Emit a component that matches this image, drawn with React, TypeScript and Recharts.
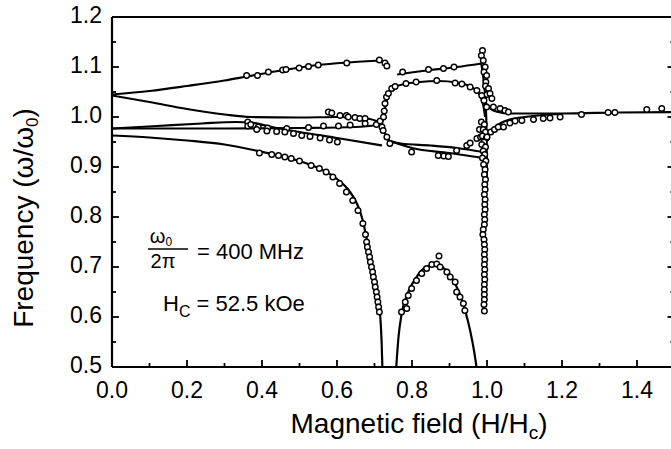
import React from "react";
import { ComposedChart, Line, Scatter, XAxis, YAxis } from "recharts";

const FONT = "'Liberation Sans', Arial, Helvetica, sans-serif";

// axis ticks (major every 0.2 / 0.1, minor in between)
const xTicks = [0, 0.1, 0.2, 0.3, 0.4, 0.5, 0.6, 0.7, 0.8, 0.9, 1.0, 1.1, 1.2, 1.3, 1.4, 1.5];
const yTicks = [0.5, 0.55, 0.6, 0.65, 0.7, 0.75, 0.8, 0.85, 0.9, 0.95, 1.0, 1.05, 1.1, 1.15, 1.2];

// theory curves, [H/Hc, w/w0]
const upperLeftCurve = [[0, 1.045], [0.1, 1.052], [0.2, 1.062], [0.3, 1.073], [0.36, 1.081], [0.45, 1.093], [0.55, 1.104], [0.63, 1.109], [0.72, 1.113]];
const upperRightCurve = [[0.76, 1.085], [0.85, 1.094], [0.92, 1.1], [0.985, 1.107]];
const spikeCurve = [[0.985, 1.107], [0.99, 1.08], [0.995, 1.045], [0.998, 1.0], [0.999, 0.95], [1.0, 0.87]];
const curveA = [[0, 1.043], [0.1, 1.03], [0.2, 1.016], [0.3, 1.005], [0.37, 1.0], [0.5, 0.999], [0.6, 1.0], [0.68, 0.997], [0.72, 0.988]];
const curveB = [[0, 0.977], [0.3, 0.977], [0.5, 0.978], [0.65, 0.98], [0.72, 0.985]];
const curveC = [[0, 0.977], [0.12, 0.982], [0.24, 0.987], [0.33, 0.99], [0.37, 0.989], [0.42, 0.981], [0.5, 0.97], [0.6, 0.958], [0.72, 0.943]];
const curveD = [[0, 0.963], [0.1, 0.959], [0.2, 0.953], [0.3, 0.945], [0.39, 0.932], [0.45, 0.922], [0.5, 0.912], [0.55, 0.898], [0.6, 0.876], [0.63, 0.855], [0.656, 0.822], [0.668, 0.795], [0.679, 0.757], [0.69, 0.712], [0.7, 0.672], [0.708, 0.64], [0.715, 0.605], [0.719, 0.55], [0.721, 0.5]];
const loopTop = [[0.72, 0.988], [0.726, 1.01], [0.732, 1.032], [0.74, 1.048], [0.755, 1.06], [0.78, 1.066], [0.82, 1.07], [0.87, 1.072], [0.92, 1.069], [0.95, 1.063], [0.97, 1.054], [0.982, 1.042], [0.99, 1.024], [0.995, 1.0]];
const loopBottomA = [[0.72, 0.988], [0.727, 0.97], [0.738, 0.953], [0.77, 0.947], [0.85, 0.943], [0.92, 0.938], [0.99, 0.93]];
const loopBottomB = [[0.738, 0.953], [0.8, 0.938], [0.9, 0.928], [0.99, 0.918]];
const rightUpper = [[0.995, 1.03], [1.01, 1.016], [1.03, 1.01], [1.06, 1.007], [1.2, 1.007], [1.35, 1.009], [1.5, 1.01]];
const rightLower = [[0.99, 0.948], [1.0, 0.962], [1.015, 0.976], [1.035, 0.987], [1.06, 0.995], [1.1, 1.0], [1.15, 1.004], [1.2, 1.006]];
const dome = [[0.758, 0.5], [0.764, 0.56], [0.772, 0.605], [0.79, 0.65], [0.812, 0.68], [0.835, 0.699], [0.86, 0.705], [0.88, 0.7], [0.9, 0.686], [0.915, 0.666], [0.93, 0.642], [0.941, 0.615], [0.955, 0.573], [0.966, 0.53], [0.972, 0.5]];

// measured points
const pointsTop = [[0.359, 1.083], [0.388, 1.083], [0.417, 1.09], [0.455, 1.094], [0.464, 1.095], [0.499, 1.098], [0.524, 1.101], [0.55, 1.104], [0.626, 1.108], [0.713, 1.114], [0.728, 1.108], [0.733, 1.102], [0.775, 1.09], [0.844, 1.095], [0.884, 1.097], [0.912, 1.1]];
const pointsSpike = [[0.988, 1.133], [0.985, 1.123], [0.99, 1.113], [0.995, 1.1], [0.992, 1.09], [0.999, 1.083], [0.997, 1.07], [0.996, 1.062], [1.004, 1.057], [1.0, 1.045], [1.008, 1.047], [1.013, 1.037], [0.999, 1.02], [1.017, 1.02], [1.035, 1.017], [1.048, 1.013], [1.057, 1.01]];
const pointsLoop = [[0.728, 1.027], [0.732, 1.04], [0.737, 1.047], [0.746, 1.057], [0.755, 1.061], [0.784, 1.067], [0.811, 1.07], [0.866, 1.073], [0.915, 1.068], [0.933, 1.066], [0.955, 1.06], [0.973, 1.053], [0.986, 1.043], [0.992, 1.033], [0.705, 0.985], [0.715, 0.992], [0.72, 0.98], [0.724, 1.0], [0.726, 1.012], [0.723, 0.973], [0.733, 0.96], [0.741, 0.947], [0.799, 0.93], [0.87, 0.923], [0.885, 0.922], [0.897, 0.921], [0.919, 0.933], [0.946, 0.943], [0.955, 0.948], [0.973, 0.957], [0.985, 0.99], [0.98, 0.975], [0.983, 0.96]];
const pointsLevel = [[0.577, 1.01], [0.586, 1.008], [0.608, 1.003], [0.625, 1.003], [0.63, 1.0], [0.648, 0.999], [0.661, 0.997], [0.675, 0.997], [0.362, 0.99], [0.362, 0.982], [0.37, 0.985], [0.39, 0.98], [0.415, 0.978], [0.466, 0.977], [0.524, 0.979], [0.564, 0.982], [0.604, 0.982], [0.635, 0.984], [0.675, 0.987], [0.386, 0.975], [0.413, 0.972], [0.439, 0.971], [0.461, 0.97], [0.484, 0.967], [0.506, 0.963], [0.528, 0.961], [0.555, 0.958], [0.58, 0.954], [0.601, 0.95]];
const pointsD = [[0.393, 0.928], [0.426, 0.925], [0.444, 0.923], [0.461, 0.92], [0.478, 0.917], [0.5, 0.912], [0.531, 0.903], [0.553, 0.897], [0.571, 0.89], [0.589, 0.88], [0.607, 0.867], [0.625, 0.85], [0.642, 0.833], [0.656, 0.813], [0.669, 0.787], [0.676, 0.765], [0.679, 0.75], [0.681, 0.74], [0.684, 0.73], [0.687, 0.72], [0.689, 0.71], [0.692, 0.7], [0.695, 0.69], [0.697, 0.68], [0.7, 0.67], [0.702, 0.66], [0.705, 0.65], [0.707, 0.64], [0.709, 0.63], [0.711, 0.62], [0.713, 0.61]];
const pointsDome = [[0.772, 0.61], [0.786, 0.617], [0.782, 0.63], [0.79, 0.643], [0.799, 0.657], [0.812, 0.673], [0.826, 0.687], [0.839, 0.697], [0.853, 0.705], [0.866, 0.706], [0.872, 0.722], [0.875, 0.7], [0.893, 0.69], [0.902, 0.68], [0.915, 0.67], [0.919, 0.65], [0.928, 0.64], [0.937, 0.627], [0.941, 0.613]];
const pointsColumn = [[0.993, 0.985], [0.99, 0.975], [0.996, 0.97], [0.988, 0.962], [0.998, 0.958], [0.992, 0.95], [0.986, 0.945], [0.996, 0.94], [0.99, 0.932], [0.994, 0.925], [0.988, 0.918], [0.997, 0.912], [0.991, 0.905], [0.995, 0.895], [0.993, 0.885], [0.996, 0.875], [0.994, 0.865], [0.995, 0.855], [0.993, 0.845], [0.995, 0.835], [0.994, 0.825], [0.995, 0.815], [0.993, 0.805], [0.994, 0.795], [0.993, 0.785], [0.99, 0.775], [0.989, 0.765], [0.992, 0.755], [0.993, 0.745], [0.994, 0.735], [0.993, 0.725], [0.994, 0.715], [0.993, 0.705], [0.994, 0.695], [0.993, 0.685], [0.994, 0.675], [0.993, 0.665], [0.993, 0.655], [0.993, 0.645], [0.993, 0.635], [0.992, 0.625], [0.993, 0.612]];
const pointsRight = [[1.0, 0.96], [1.01, 0.97], [1.02, 0.975], [1.03, 0.98], [1.044, 0.98], [1.061, 0.988], [1.075, 0.992], [1.093, 0.993], [1.124, 0.995], [1.15, 0.997], [1.168, 0.998], [1.195, 1.0], [1.252, 1.005], [1.323, 1.009], [1.341, 1.009], [1.426, 1.015], [1.466, 1.017]];

const curves = [upperLeftCurve, upperRightCurve, curveA, curveB, curveC, curveD, loopTop, loopBottomA, loopBottomB, rightUpper, rightLower, dome];
const pointSets = [pointsTop, pointsSpike, pointsLoop, pointsLevel, pointsD, pointsDome, pointsColumn, pointsRight];

const toPts = (arr: number[][]) => arr.map(([x, y]) => ({ x, y }));

const isMajorX = (v: number) => Math.round(v * 10) % 2 === 0;
const isMajorY = (v: number) => Math.round(v * 100) % 10 === 0;

const BottomTick = (props: any) => {
  const { x, y, payload } = props;
  const v = payload.value;
  const major = isMajorX(v);
  return (
    <g>
      <line x1={x} x2={x} y1={y} y2={y - (major ? 7 : 4)} stroke="#000" strokeWidth={1.8} />
      {major && (
        <text x={x} y={y + 31} textAnchor="middle" fontSize={23} fill="#000" fontFamily={FONT}>
          {v.toFixed(1)}
        </text>
      )}
    </g>
  );
};

const TopTick = (props: any) => {
  const { x, y, payload } = props;
  const major = isMajorX(payload.value);
  return <line x1={x} x2={x} y1={y} y2={y + (major ? 7 : 4)} stroke="#000" strokeWidth={1.8} />;
};

const LeftTick = (props: any) => {
  const { x, y, payload } = props;
  const v = payload.value;
  const major = isMajorY(v);
  return (
    <g>
      <line x1={x} x2={x + (major ? 7 : 4)} y1={y} y2={y} stroke="#000" strokeWidth={1.8} />
      {major && (
        <text x={x - 10} y={y + 6} textAnchor="end" fontSize={23} fill="#000" fontFamily={FONT}>
          {v.toFixed(1)}
        </text>
      )}
    </g>
  );
};

const RightTick = (props: any) => {
  const { x, y, payload } = props;
  const major = isMajorY(payload.value);
  return <line x1={x} x2={x - (major ? 7 : 4)} y1={y} y2={y} stroke="#000" strokeWidth={1.8} />;
};

const OpenCircle = (props: any) => {
  const { cx, cy } = props;
  if (cx == null || cy == null) return <g />;
  return <circle cx={cx} cy={cy} r={2.8} fill="#fff" stroke="#000" strokeWidth={1.4} />;
};

export default function App() {
  return (
    <div style={{ position: "absolute", left: 0, top: 0, width: 671, height: 449, overflow: "hidden", background: "#fff" }}>
      <ComposedChart width={690} height={449} margin={{ top: 0, right: 0, bottom: 0, left: 0 }}>
        <XAxis
          dataKey="x"
          type="number"
          domain={[0, 1.5]}
          allowDataOverflow
          ticks={xTicks}
          interval={0}
          tickSize={0}
          tickMargin={0}
          tickLine={false}
          tick={<BottomTick />}
          axisLine={{ stroke: "#000", strokeWidth: 2.2 }}
          height={82}
        />
        <XAxis
          xAxisId="top"
          orientation="top"
          type="number"
          domain={[0, 1.5]}
          allowDataOverflow
          ticks={xTicks}
          interval={0}
          tickSize={0}
          tickMargin={0}
          tickLine={false}
          tick={<TopTick />}
          axisLine={{ stroke: "#000", strokeWidth: 2.2 }}
          height={17}
        />
        <YAxis
          dataKey="y"
          type="number"
          domain={[0.5, 1.2]}
          allowDataOverflow
          ticks={yTicks}
          interval={0}
          tickSize={0}
          tickMargin={0}
          tickLine={false}
          tick={<LeftTick />}
          axisLine={{ stroke: "#000", strokeWidth: 2.2 }}
          width={112}
        />
        <YAxis
          yAxisId="right"
          orientation="right"
          type="number"
          domain={[0.5, 1.2]}
          allowDataOverflow
          ticks={yTicks}
          interval={0}
          tickSize={0}
          tickMargin={0}
          tickLine={false}
          tick={<RightTick />}
          axisLine={{ stroke: "#000", strokeWidth: 2.2 }}
          width={15.5}
        />
        {curves.map((c, i) => (
          <Line
            key={`curve-${i}`}
            data={toPts(c)}
            dataKey="y"
            type="monotone"
            stroke="#000"
            strokeWidth={2.2}
            dot={false}
            activeDot={false}
            isAnimationActive={false}
          />
        ))}
        <Line
          data={toPts(spikeCurve)}
          dataKey="y"
          type="linear"
          stroke="#000"
          strokeWidth={2.2}
          dot={false}
          activeDot={false}
          isAnimationActive={false}
        />
        {pointSets.map((p, i) => (
          <Scatter key={`pts-${i}`} data={toPts(p)} dataKey="y" shape={<OpenCircle />} isAnimationActive={false} />
        ))}
      </ComposedChart>
      <svg width={671} height={449} style={{ position: "absolute", left: 0, top: 0, pointerEvents: "none" }}>
        <g fontFamily={FONT} fill="#000">
          <text x={419} y={433} textAnchor="middle" fontSize={28}>
            Magnetic field (H/H
            <tspan fontSize={19} dy={6}>c</tspan>
            <tspan dy={-6}>)</tspan>
          </text>
          <text x={33} y={218} textAnchor="middle" fontSize={28} transform="rotate(-90 33 218)">
            Frequency (ω/ω
            <tspan fontSize={17} dy={5}>0</tspan>
            <tspan dy={-5}>)</tspan>
          </text>
          <text x={161} y={243} textAnchor="middle" fontSize={20}>
            ω<tspan fontSize={12} dy={3}>0</tspan>
          </text>
          <line x1={148} x2={188} y1={249} y2={249} stroke="#000" strokeWidth={1.5} />
          <text x={163} y={268} textAnchor="middle" fontSize={20}>2π</text>
          <text x={197} y={259} fontSize={22}>= 400 MHz</text>
          <text x={163} y={311} fontSize={22}>
            H<tspan fontSize={16} dy={6}>C</tspan>
            <tspan dy={-6}> = 52.5 kOe</tspan>
          </text>
        </g>
      </svg>
    </div>
  );
}
